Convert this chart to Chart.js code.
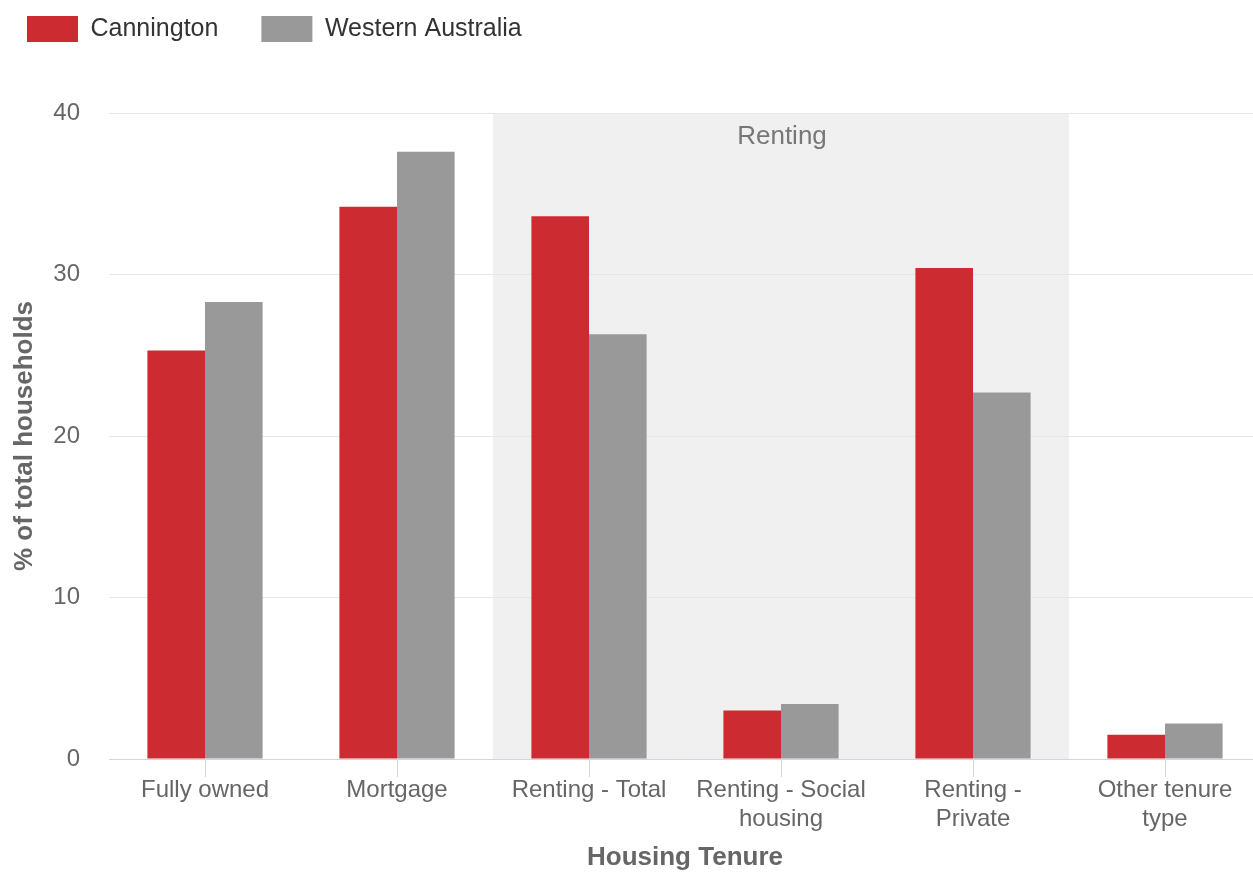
<!DOCTYPE html>
<html>
<head>
<meta charset="utf-8">
<script src="https://cdn.jsdelivr.net/npm/chart.js@4/dist/chart.umd.min.js"></script>
<style>
  html, body { margin: 0; padding: 0; overflow: hidden; background: #ffffff; }
  #wrap { width: 1261px; height: 873px; }
</style>
</head>
<body>
<div id="wrap"><canvas id="c" width="1261" height="873"></canvas></div>
<script>
const categories = ["Fully owned", "Mortgage", "Renting - Total", ["Renting - Social", "housing"], ["Renting -", "Private"], ["Other tenure", "type"]];
const canningtonValues = [25.3, 34.2, 33.6, 3.0, 30.4, 1.5];
const waValues = [28.3, 37.6, 26.3, 3.4, 22.7, 2.2];
const yTicks = [0, 10, 20, 30, 40];
const bandFrom = 2, bandTo = 4, bandLabel = "Renting";

const FONT = "'Liberation Sans', Arial, Helvetica, sans-serif";

const bandPlugin = {
  id: 'band',
  beforeDraw(chart) {
    const {ctx, chartArea, scales} = chart;
    const x = scales.x;
    const step = x.getPixelForValue(1) - x.getPixelForValue(0);
    const left = x.getPixelForValue(bandFrom) - step / 2;
    const right = x.getPixelForValue(bandTo) + step / 2;
    ctx.save();
    ctx.fillStyle = '#f0f0f0';
    ctx.fillRect(left, chartArea.top, right - left, chartArea.bottom - chartArea.top);
    ctx.fillStyle = '#777777';
    ctx.font = "26px " + FONT;
    ctx.textAlign = 'center';
    ctx.textBaseline = 'middle';
    ctx.fillText(bandLabel, (left + right) / 2 + 1, chartArea.top + 24);
    ctx.restore();
  }
};

const legendFitPlugin = {
  id: 'legendFit',
  beforeInit(chart) {
    const origFit = chart.legend.fit;
    chart.legend.fit = function () {
      origFit.bind(chart.legend)();
      this.height = 113;
    };
  },
  afterLayout(chart) {
    const lg = chart.legend;
    lg.left -= 16; lg.right -= 16;
    lg.top -= 27; lg.bottom -= 27;
  }
};

new Chart(document.getElementById('c'), {
  type: 'bar',
  data: {
    labels: categories,
    datasets: [
      { label: 'Cannington', data: canningtonValues, backgroundColor: '#cc2c31', borderWidth: 0 },
      { label: 'Western Australia', data: waValues, backgroundColor: '#999999', borderWidth: 0 }
    ]
  },
  options: {
    responsive: false,
    animation: false,
    events: [],
    layout: { padding: 0 },
    categoryPercentage: 0.6,
    barPercentage: 1.0,
    plugins: {
      tooltip: { enabled: false },
      legend: {
        position: 'top',
        align: 'start',
        labels: {
          boxWidth: 51,
          boxHeight: 26,
          padding: 43,
          color: '#333333',
          font: { family: FONT, size: 25 }
        }
      }
    },
    scales: {
      x: {
        afterFit(s) { s.height = 114; },
        grid: { offset: false, drawOnChartArea: false, drawTicks: true, tickLength: 18, color: '#ccd6eb', lineWidth: 1 },
        border: { display: true, color: '#ccd6eb', width: 1 },
        ticks: { color: '#666666', font: { family: FONT, size: 24, lineHeight: 1.2 }, padding: -1, maxRotation: 0, autoSkip: false },
        title: { display: true, text: 'Housing Tenure', color: '#666666', font: { family: FONT, size: 26, weight: 'bold', lineHeight: 1.2 }, padding: { top: 0, bottom: 0 } }
      },
      y: {
        min: 0,
        max: 40,
        afterFit(s) { s.width = 109; },
        afterBuildTicks(s) { s.ticks = yTicks.map(v => ({ value: v })); },
        grid: { color: '#e6e6e6', lineWidth: 1, drawTicks: false },
        border: { display: false },
        ticks: { color: '#666666', font: { family: FONT, size: 24 }, padding: 29 },
        title: { display: true, text: '% of total households', color: '#666666', font: { family: FONT, size: 26, weight: 'bold', lineHeight: 1.2 }, padding: { top: 9, bottom: 0 } }
      }
    }
  },
  plugins: [bandPlugin, legendFitPlugin]
});
</script>
</body>
</html>
